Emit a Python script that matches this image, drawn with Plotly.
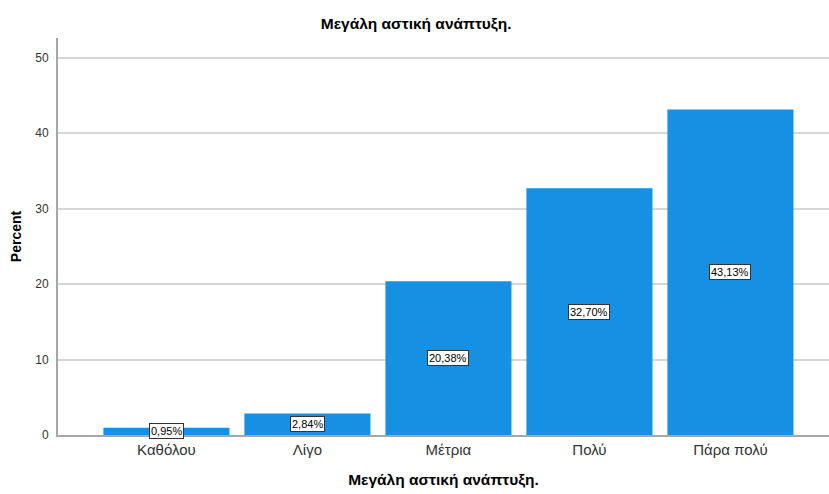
import plotly.graph_objects as go

categories = ["Καθόλου", "Λίγο", "Μέτρια", "Πολύ", "Πάρα πολύ"]
percent = [0.95, 2.84, 20.38, 32.70, 43.13]
y_ticks = [0, 10, 20, 30, 40, 50]
title_text = "Μεγάλη αστική ανάπτυξη."

BAR_COLOR = "#1590e2"
FONT = "Liberation Sans, Arial, sans-serif"

fig = go.Figure(
    go.Bar(
        x=list(range(len(categories))),
        y=percent,
        width=0.894,
        marker=dict(color=BAR_COLOR, line=dict(width=0)),
        hoverinfo="skip",
    )
)

# Value boxes centred at half the bar height
for i, v in enumerate(percent):
    fig.add_annotation(
        x=i, y=v / 2, xref="x", yref="y",
        text=f"{v:.2f}%".replace(".", ","),
        showarrow=False,
        font=dict(family=FONT, size=11, color="#000"),
        bgcolor="white", bordercolor="#333", borderwidth=1, borderpad=1,
    )

fig.update_layout(
    width=829, height=494,
    margin=dict(l=58, r=0, t=38, b=59),
    plot_bgcolor="white", paper_bgcolor="white",
    showlegend=False,
    font=dict(family=FONT, color="#333"),
    title=dict(
        text=title_text, x=0.502, xanchor="center", y=0.953, yanchor="middle",
        font=dict(family=FONT, size=15.5, color="#000", weight="bold"),
    ),
)

fig.update_xaxes(
    range=[-0.769, 4.699],
    tickmode="array", tickvals=list(range(len(categories))), ticktext=categories,
    tickfont=dict(family=FONT, size=15, color="#333"),
    showline=True, linecolor="#a6a6a6", linewidth=2,
    showgrid=False, zeroline=False, ticks="", ticklen=0,
    title=dict(text=title_text, standoff=17,
               font=dict(family=FONT, size=15.5, color="#000", weight="bold")),
)

fig.update_yaxes(
    range=[0, 52.6],
    tickmode="array", tickvals=y_ticks,
    tickfont=dict(family=FONT, size=12, color="#333"),
    showline=True, linecolor="#a6a6a6", linewidth=2,
    showgrid=True, gridcolor="#d6d6d6", gridwidth=1.5,
    zeroline=False, ticks="", ticklabelstandoff=5,
    title=dict(text="Percent", standoff=10,
               font=dict(family=FONT, size=14, color="#000", weight="bold")),
)

fig.write_html("out.html")
